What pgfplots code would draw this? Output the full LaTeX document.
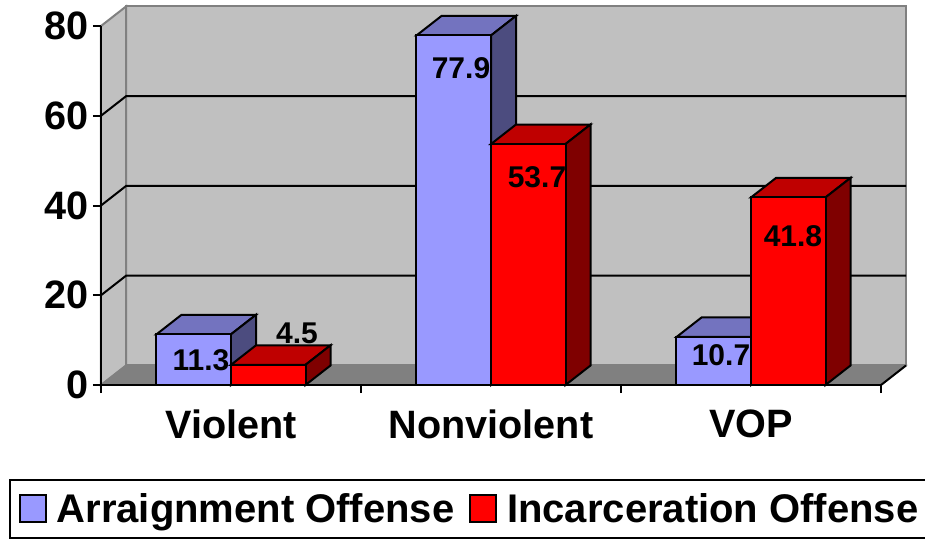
\documentclass[border=0pt]{standalone}
\usepackage{pgfplots}
\pgfplotsset{compat=1.18}
\usepackage{fontspec}
\setmainfont{Liberation Sans}
\definecolor{bfront}{HTML}{9999FF}
\definecolor{btop}{HTML}{7373BF}
\definecolor{bside}{HTML}{4C4C7F}
\definecolor{rfront}{HTML}{FF0000}
\definecolor{rtop}{HTML}{BF0000}
\definecolor{rside}{HTML}{7F0000}
\definecolor{wall}{HTML}{C0C0C0}
\definecolor{floorc}{HTML}{808080}
\newcommand{\bigf}{\bfseries\fontsize{29.7}{32}\selectfont}
\newcommand{\legf}{\bfseries\fontsize{30}{32}\selectfont}
\newcommand{\labf}{\bfseries\fontsize{22.5}{25}\selectfont}
\pgfplotsset{keylegend/.style={legend image code/.code={\draw[##1] (0pt,-10pt) rectangle (19.5pt,10pt);}}}
\begin{document}
\begin{tikzpicture}
\useasboundingbox (-75.75pt,-116.25pt) rectangle (618pt,288.75pt);
\begin{axis}[
  at={(0pt,0pt)}, anchor=south west,
  scale only axis, width=585pt, height=269.25pt,
  clip=false, axis on top,
  xmin=-0.5, xmax=2.5, ymin=0, ymax=80,
  axis lines=left, axis line style={-, line width=1.5pt, black},
  xtick={0,1,2}, xticklabels={Violent,Nonviolent,VOP},
  minor xtick={-0.5,0.5,1.5,2.5},
  ytick={0,20,40,60,80},
  major tick style={line width=1.5pt, black},
  minor tick style={line width=1.5pt, black},
  ymajorticks=true,
  tick align=outside,
  x tick style={draw=none},
  minor x tick style={draw=black},
  minor tick length=6pt,
  major tick length=6pt,
  /pgf/number format/assume math mode=true,
  tick label style={font=\bigf},
  xticklabel style={yshift=-9pt},
  yticklabel style={xshift=0.5pt},
  legend columns=2,
  legend cell align=left,
  legend style={
    at={(-92/780,-94/359)}, anchor=north west,
    font=\legf, draw=black, line width=1.5pt,
    inner xsep=6.5pt, inner ysep=8pt,
    /tikz/every even column/.append style={column sep=9pt},
    /tikz/every odd column/.append style={column sep=5.5pt},
  },
]
% walls and floor
\addplot[forget plot, fill=wall, draw=floorc, line width=1.5pt] coordinates {(-0.4038,4.35)(2.5962,4.35)(2.5962,84.35)(-0.4038,84.35)} --cycle;
\addplot[forget plot, fill=wall, draw=floorc, line width=1.5pt] coordinates {(-0.5,0)(-0.5,80)(-0.4038,84.35)(-0.4038,4.35)} --cycle;
\addplot[forget plot, fill=floorc, draw=floorc, line width=1pt] coordinates {(-0.5,0)(2.5,0)(2.5962,4.35)(-0.4038,4.35)} --cycle;
% gridlines
\addplot[forget plot, black, line width=1.5pt] coordinates {(-0.5,20)(-0.4038,24.35)(2.5962,24.35)};
\addplot[forget plot, black, line width=1.5pt] coordinates {(-0.5,40)(-0.4038,44.35)(2.5962,44.35)};
\addplot[forget plot, black, line width=1.5pt] coordinates {(-0.5,60)(-0.4038,64.35)(2.5962,64.35)};
\addplot[forget plot, black, line width=1.5pt] coordinates {(2.5,0)(2.5962,4.35)};
% Arraignment: top and side faces
\addplot[forget plot, fill=btop, draw=black, line width=1.5pt] coordinates {(-0.2865,11.3)(0,11.3)(0.0962,15.65)(-0.1903,15.65)} --cycle;
\addplot[forget plot, fill=bside, draw=black, line width=1.5pt] coordinates {(0,0)(0,11.3)(0.0962,15.65)(0.0962,4.35)} --cycle;
\addplot[forget plot, fill=btop, draw=black, line width=1.5pt] coordinates {(0.7135,77.9)(1,77.9)(1.0962,82.25)(0.8097,82.25)} --cycle;
\addplot[forget plot, fill=bside, draw=black, line width=1.5pt] coordinates {(1,0)(1,77.9)(1.0962,82.25)(1.0962,4.35)} --cycle;
\addplot[forget plot, fill=btop, draw=black, line width=1.5pt] coordinates {(1.7135,10.7)(2,10.7)(2.0962,15.05)(1.8097,15.05)} --cycle;
\addplot[forget plot, fill=bside, draw=black, line width=1.5pt] coordinates {(2,0)(2,10.7)(2.0962,15.05)(2.0962,4.35)} --cycle;
% Arraignment: front faces
\addplot[ybar, bar width=55.875pt, bar shift=-27.94pt, fill=bfront, draw=black, line width=1.5pt, keylegend]
  coordinates {(0,11.3)(1,77.9)(2,10.7)};
\addlegendentry{Arraignment Offense}
% Incarceration: top and side faces
\addplot[forget plot, fill=rtop, draw=black, line width=1.5pt] coordinates {(0,4.5)(0.2865,4.5)(0.3827,8.85)(0.0962,8.85)} --cycle;
\addplot[forget plot, fill=rside, draw=black, line width=1.5pt] coordinates {(0.2865,0)(0.2865,4.5)(0.3827,8.85)(0.3827,4.35)} --cycle;
\addplot[forget plot, fill=rtop, draw=black, line width=1.5pt] coordinates {(1,53.7)(1.2865,53.7)(1.3827,58.05)(1.0962,58.05)} --cycle;
\addplot[forget plot, fill=rside, draw=black, line width=1.5pt] coordinates {(1.2865,0)(1.2865,53.7)(1.3827,58.05)(1.3827,4.35)} --cycle;
\addplot[forget plot, fill=rtop, draw=black, line width=1.5pt] coordinates {(2,41.8)(2.2865,41.8)(2.3827,46.15)(2.0962,46.15)} --cycle;
\addplot[forget plot, fill=rside, draw=black, line width=1.5pt] coordinates {(2.2865,0)(2.2865,41.8)(2.3827,46.15)(2.3827,4.35)} --cycle;
% Incarceration: front faces
\addplot[ybar, bar width=55.875pt, bar shift=27.94pt, fill=rfront, draw=black, line width=1.5pt, keylegend]
  coordinates {(0,4.5)(1,53.7)(2,41.8)};
\addlegendentry{Incarceration Offense}
% data labels
\node[font=\labf] at (axis cs:-0.1154,5.5) {11.3};
\node[font=\labf] at (axis cs:0.2538,11.6) {4.5};
\node[font=\labf] at (axis cs:0.8846,70.6) {77.9};
\node[font=\labf] at (axis cs:1.1769,46.4) {53.7};
\node[font=\labf] at (axis cs:1.8846,6.6) {10.7};
\node[font=\labf] at (axis cs:2.1615,33.1) {41.8};
\end{axis}
\end{tikzpicture}
\end{document}
